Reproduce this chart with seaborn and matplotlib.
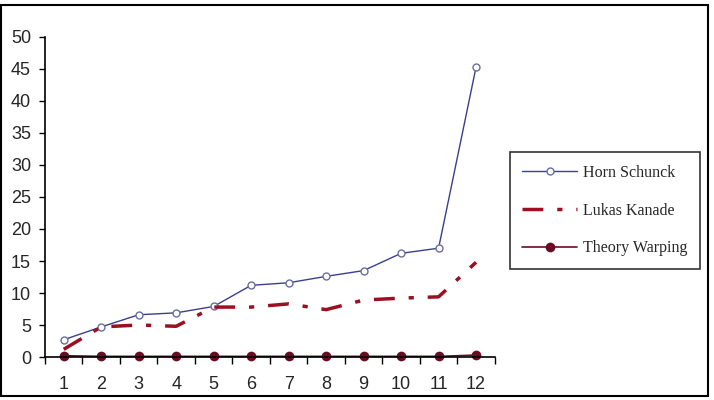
import pandas as pd
import seaborn as sns
import matplotlib
matplotlib.use('Agg')
import matplotlib.pyplot as plt
from matplotlib.ticker import FixedLocator

# Datos
frames = list(range(1, 13))
horn_schunck = [2.7, 4.7, 6.6, 6.9, 7.9, 11.2, 11.6, 12.6, 13.5, 16.2, 17.0, 45.3]
lukas_kanade = [1.2, 4.7, 5.0, 4.8, 7.8, 7.8, 8.3, 7.4, 8.9, 9.2, 9.4, 14.8]
theory_warping = [0.2, 0.1, 0.1, 0.1, 0.1, 0.1, 0.1, 0.1, 0.1, 0.1, 0.1, 0.3]

data = pd.DataFrame({'frame': frames, 'hs': horn_schunck,
                     'lk': lukas_kanade, 'tw': theory_warping})

sns.set_style('white')
plt.rcParams['font.family'] = ['Liberation Sans', 'DejaVu Sans']

fig = plt.figure(figsize=(7.14, 4.0), dpi=100)
ax = fig.add_axes([0.063, 0.1075, 0.63, 0.8])

sns.lineplot(data=data, x='frame', y='hs', ax=ax, color='#3a3f8f', lw=1.0,
             marker='o', markersize=5, markerfacecolor='white',
             markeredgecolor='#6a6f9a', markeredgewidth=1.0, label='Horn Schunck')
sns.lineplot(data=data, x='frame', y='lk', ax=ax, color='#9b1020', lw=2.5,
             dashes=(6, 4, 1.5, 4), label='Lukas Kanade')
sns.lineplot(data=data, x='frame', y='tw', ax=ax, color='#6b0a22', lw=1.2,
             marker='o', markersize=7, markeredgewidth=0, label='Theory Warping')
for ln in ax.lines:
    ln.set_clip_on(False)

ax.set_xlim(0.5, 12.5)
ax.set_ylim(0, 50)
ax.set_xticks(frames)
ax.xaxis.set_minor_locator(FixedLocator([x + 0.5 for x in range(0, 13)]))
ax.set_yticks(range(0, 51, 5))
ax.tick_params(axis='x', which='major', length=0, pad=14, labelsize=13)
ax.tick_params(axis='x', which='minor', length=5, width=1, color='black', direction='out', bottom=True)
ax.tick_params(axis='y', length=4, width=1, color='black', direction='out', left=True, labelsize=13, pad=6)
ax.set_xlabel('')
ax.set_ylabel('')
sns.despine(ax=ax)
for s in ['left', 'bottom']:
    ax.spines[s].set_color('black')
    ax.spines[s].set_linewidth(1.2)

leg = ax.legend(loc='upper left', bbox_to_anchor=(1.033, 0.64), frameon=True,
                fancybox=False, edgecolor='black', labelspacing=1.35,
                handlelength=3.4, handletextpad=0.4, borderpad=0.8, borderaxespad=0,
                prop={'family': 'Liberation Serif', 'size': 11.5})
leg.get_frame().set_linewidth(1.2)

# borde de la figura
fig.add_artist(plt.Rectangle((0.002, 0.01), 0.989, 0.977, transform=fig.transFigure,
                             fill=False, lw=1.5, color='black'))

plt.savefig('out.png', dpi=100)
